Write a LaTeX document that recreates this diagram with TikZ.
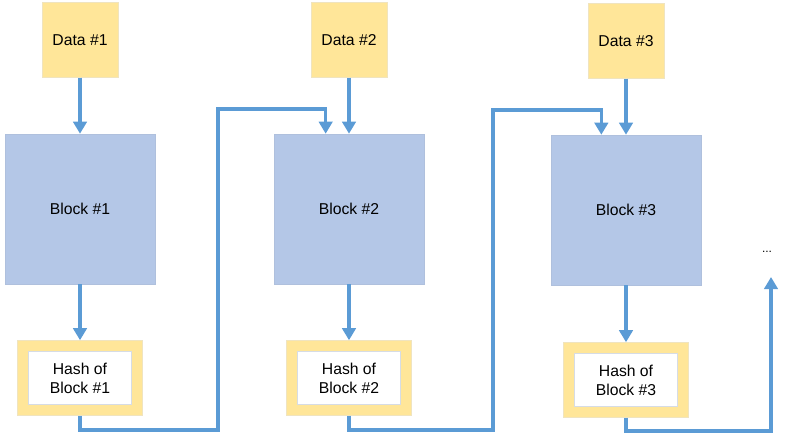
\documentclass[tikz,border=0pt]{standalone}
\usepackage{fontspec}
\setmainfont{Liberation Sans}
\usetikzlibrary{arrows.meta}
\definecolor{datayellow}{HTML}{FFE699}
\definecolor{blockblue}{HTML}{B4C7E7}
\definecolor{linkblue}{HTML}{5B9BD5}
\definecolor{edgegray}{HTML}{D6DCE5}
\tikzset{
  databox/.style={fill=datayellow, draw=datayellow!80!gray!60, line width=0.4pt, minimum width=57pt, minimum height=56pt, inner sep=0pt},
  blockbox/.style={fill=blockblue, draw=blockblue!90!gray, line width=0.4pt, minimum width=112.5pt, minimum height=112.5pt, inner sep=0pt},
  hashframe/.style={fill=datayellow, draw=datayellow!80!gray!60, line width=0.4pt, minimum width=93.75pt, minimum height=56.25pt, inner sep=0pt},
  hashbox/.style={fill=white, draw=edgegray, line width=0.4pt, minimum width=77.25pt, minimum height=39.75pt, inner sep=0pt, align=center},
  link/.style={draw=linkblue, line width=2.6pt, -{Triangle[width=10pt,length=9pt]}}
}
\begin{document}
\begin{tikzpicture}[x=0.75pt, y=-0.75pt, font=\fontsize{11.8pt}{14.2pt}\selectfont]
	\useasboundingbox (0,0) rectangle (788,433); %画布
	% 第一块
	\node[databox] (d1) at (80,40) {Data \#1};
	\node[blockbox] (b1) at (80,209) {Block \#1};
	\node[hashframe] (f1) at (80,378) {};
	\node[hashbox] (h1) at (80,378) {Hash of\\Block \#1};
	% 第二块
	\node[databox] (d2) at (349,40) {Data \#2};
	\node[blockbox] (b2) at (349,209) {Block \#2};
	\node[hashframe] (f2) at (349,378) {};
	\node[hashbox] (h2) at (349,378) {Hash of\\Block \#2};
	% 第三块
	\node[databox] (d3) at (626,41) {Data \#3};
	\node[blockbox] (b3) at (626,210) {Block \#3};
	\node[hashframe] (f3) at (626,380) {};
	\node[hashbox] (h3) at (626,380) {Hash of\\Block \#3};
	\node (more) at (767,252) {\fontsize{9pt}{10pt}\selectfont ...};
	\coordinate (next) at (771,277);
	% 箭头
	\draw[link] (d1.south) -- (b1.north);
	\draw[link] (b1.south) -- (f1.north);
	\draw[link] (d2.south) -- (b2.north);
	\draw[link] (b2.south) -- (f2.north);
	\draw[link] (d3.south) -- (b3.north);
	\draw[link] (b3.south) -- (f3.north);
	\draw[link] (f1.south) |- (218,430) -- (218,109) -| ([xshift=-17.5pt]b2.north); %哈希连到下一块
	\draw[link] (f2.south) |- (493,430) -- (493,110) -| ([xshift=-18.5pt]b3.north);
	\draw[link] (f3.south) |- (771,431) -- (next);
\end{tikzpicture}
\end{document}
